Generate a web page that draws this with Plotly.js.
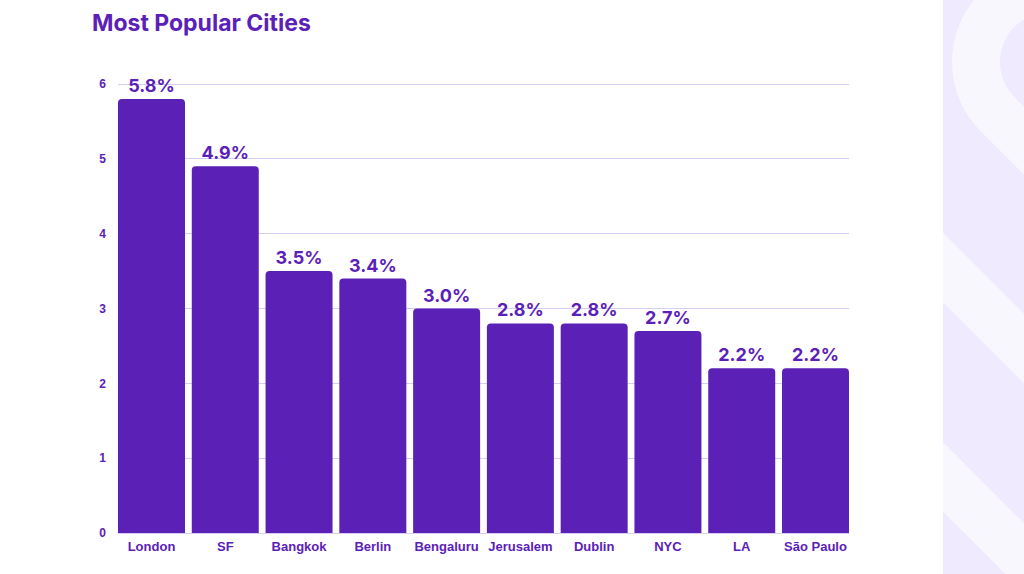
<!DOCTYPE html>
<html>
<head>
<meta charset="utf-8">
<script src="https://cdn.plot.ly/plotly-3.0.1.min.js"></script>
<style>
  html, body { margin: 0; padding: 0; background: #ffffff; }
  #wrap { position: relative; width: 1024px; height: 574px; overflow: hidden; }
  #deco { position: absolute; left: 0; top: 0; }
  #chart { position: absolute; left: 0; top: 0; width: 1024px; height: 574px; }
</style>
</head>
<body>
<div id="wrap">
  <svg id="deco" width="1024" height="574" xmlns="http://www.w3.org/2000/svg">
    <defs>
      <clipPath id="panelClip"><rect x="943" y="0" width="81" height="574"/></clipPath>
    </defs>
    <rect x="943" y="0" width="81" height="574" fill="#efeafd"/>
    <g clip-path="url(#panelClip)" stroke="#f8f7fe" fill="none" stroke-width="48">
      <path d="M 1050 -12 A 74 74 0 0 0 997.7 114.3 L 1120 236.6"/>
      <line x1="900" y1="224.5" x2="1100" y2="424.5" stroke-width="49"/>
      <line x1="900" y1="434" x2="1100" y2="634" stroke-width="49"/>
    </g>
  </svg>
  <div id="chart"></div>
</div>
<script>
const cities = ["London", "SF", "Bangkok", "Berlin", "Bengaluru", "Jerusalem", "Dublin", "NYC", "LA", "São Paulo"];
const shares = [5.8, 4.9, 3.5, 3.4, 3.0, 2.8, 2.8, 2.7, 2.2, 2.2];
const yTicks = [0, 1, 2, 3, 4, 5, 6];

const purple = "#5b21b6";
const gap = 0.092;

const trace = {
  type: "bar",
  x: cities,
  y: shares,
  marker: { color: purple },
  texttemplate: "%{y:.1f}%",
  textposition: "outside",
  cliponaxis: false,
  textfont: { family: "Inter, 'Noto Sans', sans-serif", size: 18, color: purple, weight: 700 },
  hoverinfo: "skip"
};

const layout = {
  width: 1024,
  height: 574,
  margin: { l: 118, r: 175, t: 80, b: 41 },
  paper_bgcolor: "rgba(0,0,0,0)",
  plot_bgcolor: "rgba(0,0,0,0)",
  showlegend: false,
  bargap: gap,
  barcornerradius: 4,
  title: {
    text: "Most Popular Cities",
    font: { family: "Inter, 'Noto Sans', sans-serif", size: 23, color: purple, weight: 700 },
    x: 92 / 1024,
    xref: "container",
    xanchor: "left",
    y: 1 - 23 / 574,
    yref: "container",
    yanchor: "middle"
  },
  xaxis: {
    type: "category",
    range: [-0.5 + gap / 2, cities.length - 0.5 - gap / 2],
    tickfont: { family: "'Liberation Sans', Arial, sans-serif", size: 13, color: purple, weight: 700 },
    showgrid: false,
    showline: false,
    ticks: "",
    ticklabelstandoff: 4,
    automargin: false
  },
  yaxis: {
    range: [0, 6.0535],
    tickvals: yTicks,
    ticktext: yTicks.map(String),
    tickfont: { family: "'Liberation Sans', Arial, sans-serif", size: 12, color: purple, weight: 700 },
    showgrid: true,
    gridcolor: "#d6cdf2",
    gridwidth: 1,
    zeroline: true,
    zerolinecolor: "#d6cdf2",
    zerolinewidth: 1,
    showline: false,
    ticks: "",
    ticklabelstandoff: 11,
    automargin: false
  }
};

Plotly.newPlot("chart", [trace], layout, { displayModeBar: false, staticPlot: true });
</script>
</body>
</html>
